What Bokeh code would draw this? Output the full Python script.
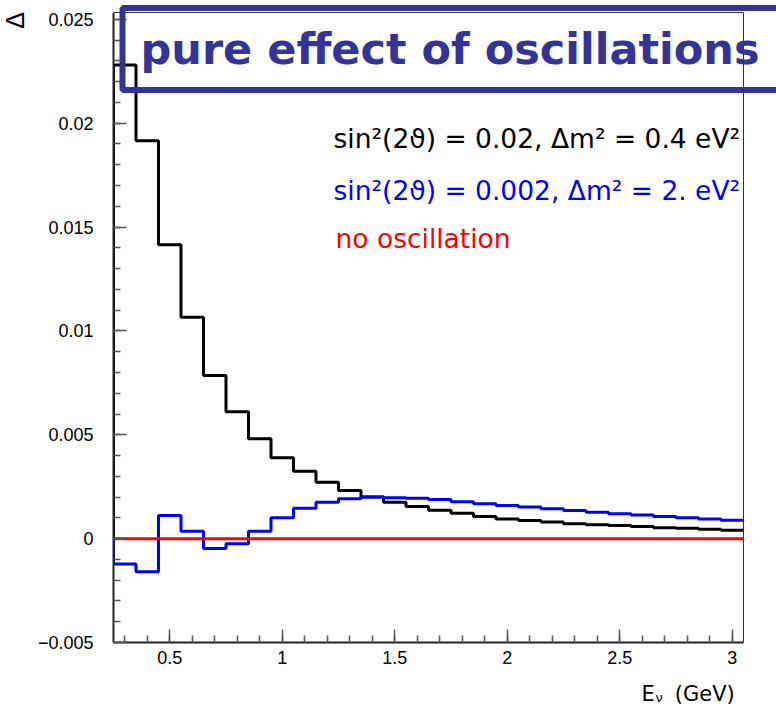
from bokeh.plotting import figure
from bokeh.models import Label, SingleIntervalTicker, CustomJSTickFormatter, Range1d
from bokeh.embed import file_html
from bokeh.resources import INLINE

# ---- data ----
bin_edges = [0.25, 0.35, 0.45, 0.55, 0.65, 0.75, 0.85, 0.95, 1.05, 1.15,
             1.25, 1.35, 1.45, 1.55, 1.65, 1.75, 1.85, 1.95, 2.05, 2.15,
             2.25, 2.35, 2.45, 2.55, 2.65, 2.75, 2.85, 2.95, 3.05]
delta_black = [0.0228, 0.01915, 0.01415, 0.01066, 0.00786, 0.00611, 0.00481, 0.00390,
               0.00324, 0.00271, 0.00232, 0.00200, 0.00175, 0.00155, 0.00137, 0.00122,
               0.00107, 0.00094, 0.00087, 0.00080, 0.00072, 0.00067, 0.00063, 0.00058,
               0.00053, 0.00050, 0.00045, 0.00040]
delta_blue = [-0.00122, -0.00159, 0.00112, 0.00035, -0.00048, -0.00024, 0.00035, 0.00101,
              0.00146, 0.00175, 0.00192, 0.00200, 0.00197, 0.00194, 0.00188, 0.00178,
              0.00168, 0.00160, 0.00152, 0.00144, 0.00135, 0.00127, 0.00120, 0.00114,
              0.00106, 0.00101, 0.00094, 0.00088]
delta_red = [0.0] * 28

legend_texts = ["sin\u00b2(2\u03d1) = 0.02, \u0394m\u00b2 = 0.4 eV\u00b2",
                "sin\u00b2(2\u03d1) = 0.002, \u0394m\u00b2 = 2. eV\u00b2",
                "no oscillation"]
legend_colors = ["black", "#0000ff", "#ff0000"]
title_text = "pure effect of oscillations"
y_title = "\u0394"
x_title_main = "E\u00a0\u00a0\u00a0(GeV)"
x_title_sub = "\u03bd"

# histogram axis extent
X0, X1 = 0.25, 3.05
Y0, Y1 = -0.005, 0.02533

W, H = 776, 712
BL, BB = 113, 70
AXW, AXH = 630, 630          # pixel size of the histogram axes box
TOP = 12                     # pixel gap above the axes box
# plot frame extends to the right and top edges of the canvas
FW, FH = W - BL, H - BB
XV1 = X0 + (X1 - X0) * FW / AXW
YV1 = Y0 + (Y1 - Y0) * FH / AXH


def px_x(px):
    return X0 + (px - BL) / FW * (XV1 - X0)


def px_y(py):
    return YV1 - py / FH * (YV1 - Y0)


def step_xy(edges, vals):
    xs, ys = [edges[0]], [0.0]
    for i, v in enumerate(vals):
        xs += [edges[i], edges[i + 1]]
        ys += [v, v]
    return xs, ys


p = figure(width=W, height=H, output_backend="svg", toolbar_location=None,
           x_range=Range1d(X0, XV1), y_range=Range1d(Y0, YV1),
           min_border_left=BL, min_border_right=0, min_border_top=0, min_border_bottom=BB)
p.grid.visible = False
p.outline_line_color = None
p.background_fill_color = "white"
p.border_fill_color = "white"

fmt = CustomJSTickFormatter(code="""
var s = Number(tick.toFixed(4)).toString();
return s.replace('-', '\u2212');
""")

p.xaxis.ticker = SingleIntervalTicker(interval=0.5, num_minor_ticks=5)
p.yaxis.ticker = SingleIntervalTicker(interval=0.005, num_minor_ticks=5)
p.xaxis.bounds = (X0, X1)
p.yaxis.bounds = (Y0, Y1)
for ax in (p.xaxis, p.yaxis):
    ax.formatter = fmt
    ax.major_tick_in = 13
    ax.major_tick_out = 0
    ax.minor_tick_in = 7
    ax.minor_tick_out = 0
    ax.axis_line_width = 2
    ax.axis_line_color = "#222222"
    ax.major_tick_line_color = "#555555"
    ax.minor_tick_line_color = "#555555"
    ax.major_tick_line_width = 1.5
    ax.minor_tick_line_width = 1.5
    ax.major_label_text_font = "Liberation Sans"
    ax.major_label_text_font_size = "18px"
    ax.major_label_text_color = "black"
p.yaxis.major_label_standoff = 20
p.xaxis.major_label_standoff = 8

# top and right sides of the axes box
p.segment(x0=[X0, X1], y0=[Y1, Y0], x1=[X1, X1], y1=[Y1, Y1],
          line_color="#333333", line_width=1)

# histograms
xs, ys = step_xy(bin_edges, delta_black)
p.line(xs, ys, line_color="black", line_width=3)
xs, ys = step_xy(bin_edges, delta_blue)
p.line(xs, ys, line_color="#0000ff", line_width=3)
xs, ys = step_xy(bin_edges, delta_red)
p.line(xs[1:], ys[1:], line_color="#ff0000", line_width=3)

# axis titles (in side panels so they are not clipped to the frame)
p.add_layout(Label(x=px_x(14), y=px_y(20), text=y_title, angle=1.5708,
                   text_align="center", text_baseline="middle",
                   text_font="Liberation Sans", text_font_size="25px", text_color="black"),
             "left")
p.add_layout(Label(x=px_x(641), y=px_y(693), text=x_title_main, text_align="left",
                   text_baseline="alphabetic", text_font="DejaVu Sans",
                   text_font_size="21px", text_color="black"), "below")
p.add_layout(Label(x=px_x(655), y=px_y(697), text=x_title_sub, text_align="left",
                   text_baseline="alphabetic", text_font="DejaVu Sans",
                   text_font_size="13px", text_color="black"), "below")

# legend texts
for txt, col, bx, by in zip(legend_texts, legend_colors, [333, 333, 335], [138, 190, 238]):
    p.add_layout(Label(x=px_x(bx), y=px_y(by), text=txt, text_align="left",
                       text_baseline="alphabetic", text_font="DejaVu Sans",
                       text_font_size="26.5px", text_color=col))

# title box
p.add_layout(Label(x=px_x(122), y=px_y(48.5), text=title_text, text_align="left",
                   text_baseline="middle", text_font="DejaVu Sans", text_font_style="bold",
                   text_font_size="43px", text_color="#333399",
                   border_line_color="#333399", border_line_width=6,
                   background_fill_color=None,
                   padding=(18, 120, 16, 16)))

open("out.html", "w").write(file_html(p, INLINE))
